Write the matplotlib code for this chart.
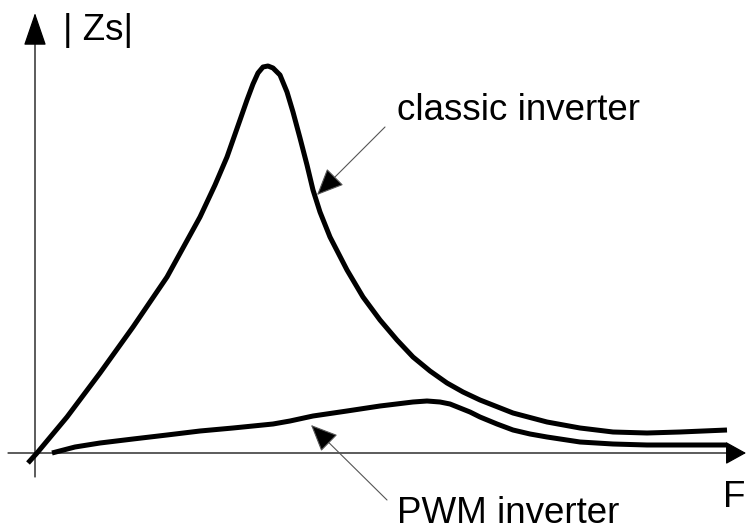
#!/usr/bin/env python3
# Sketch of source impedance |Zs| versus frequency F for two inverter types

import matplotlib
matplotlib.use("Agg")
import matplotlib.pyplot as plt

plt.rcParams['font.family'] = ['Liberation Sans', 'DejaVu Sans']

# curve (frequency, |Zs|), arbitrary units
classic_f = [-7, 2, 32, 65, 98, 132, 165, 180, 192, 205, 212, 218, 223, 228, 233,
             238, 245, 252, 258, 265, 272, 278, 285, 295, 312, 328, 345, 362, 378,
             395, 412, 428, 445, 478, 512, 545, 578, 612, 645, 692]
classic_z = [-10, 0, 36, 80, 126, 176, 236, 268, 296, 333, 353, 369, 380, 386, 387,
             385, 378, 361, 341, 315, 288, 263, 241, 216, 183, 156, 133, 113, 96,
             82, 70, 61, 53, 40, 31, 25, 21, 20, 21, 23]

pwm_f = [17, 40, 65, 98, 132, 165, 198, 238, 255, 278, 312, 345, 378, 392, 405,
         415, 425, 435, 445, 462, 478, 495, 512, 545, 578, 612, 692]
pwm_z = [0, 6, 10, 14, 18, 22, 25, 29, 32, 37, 42, 47, 51, 52, 51,
         49, 45, 41, 36, 29, 23, 19, 16, 11, 9, 8, 8]

y_label = "| Zs|"
x_label = "F"
classic_label = "classic inverter"
pwm_label = "PWM inverter"

fig = plt.figure(figsize=(7.46, 5.31), dpi=100)
ax = fig.add_axes([0, 0, 1, 1])
ax.set_xlim(-35, 711)
ax.set_ylim(-78, 453)
ax.axis('off')

# axes with arrow heads
ax.annotate("", xy=(0, 440), xytext=(0, -24),
            arrowprops=dict(arrowstyle='-|>,head_length=2.1,head_width=0.72',
                            mutation_scale=10, color='black', lw=0.9,
                            shrinkA=0, shrinkB=0))
ax.annotate("", xy=(711, 0), xytext=(-27, 0),
            arrowprops=dict(arrowstyle='-|>,head_length=1.3,head_width=0.72',
                            mutation_scale=10, color='black', lw=0.9,
                            shrinkA=0, shrinkB=0))

# the two curves
ax.plot(classic_f, classic_z, color='black', lw=3.6, solid_capstyle='butt',
        solid_joinstyle='round')
ax.plot(pwm_f, pwm_z, color='black', lw=3.6, solid_capstyle='butt',
        solid_joinstyle='round')

# labels
fs = 26.5
ax.text(28, 413, y_label, fontsize=fs, ha='left', va='baseline')
ax.text(688, -54, x_label, fontsize=fs, ha='left', va='baseline')
ax.text(362, 333, classic_label, fontsize=fs, ha='left', va='baseline')
ax.text(362, -70, pwm_label, fontsize=fs, ha='left', va='baseline')

# pointer arrows to the curves
pointer = dict(arrowstyle='-|>,head_length=1.7,head_width=0.75',
               mutation_scale=10, fc='black', ec='#555555', lw=0.8,
               shrinkA=0, shrinkB=0)
ax.annotate("", xy=(282, 258), xytext=(350, 326), arrowprops=pointer)
ax.annotate("", xy=(276, 28), xytext=(352, -47), arrowprops=pointer)

fig.savefig("out.png", dpi=100)
